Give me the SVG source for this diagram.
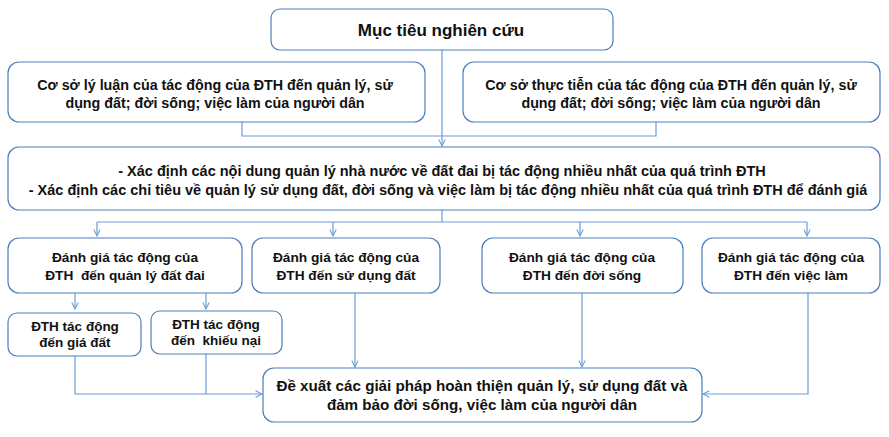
<svg xmlns="http://www.w3.org/2000/svg" width="889" height="437" viewBox="0 0 889 437">
<defs>
<style>
.box{fill:#fff;stroke:#4a7ebb;stroke-width:1.2}
.t{font-family:"Liberation Sans",Arial,sans-serif;font-weight:bold;font-size:13px;fill:#111;text-anchor:middle}
.s1{font-size:14.3px}
.s2{font-size:14.5px}
.s3{font-size:13.7px}
.s4{font-size:13.5px}
.s5{font-size:15.2px}
.c{fill:none;stroke:#6c9bd8;stroke-width:1.2}
</style>
<marker id="ar" viewBox="0 0 10 10" refX="9" refY="5" markerWidth="8" markerHeight="8" orient="auto" markerUnits="userSpaceOnUse">
<path d="M1,1 L9,5 L1,9" fill="none" stroke="#6c9bd8" stroke-width="1.3"/>
</marker>
</defs>
<rect width="889" height="437" fill="#fff"/>
<g id="connectors">
<path class="c" d="M442,50 V146" marker-end="url(#ar)"/>
<path class="c" d="M242,122 V136 H442"/>
<path class="c" d="M656,122 V136 H442"/>
<path class="c" d="M442,210 V222"/>
<path class="c" d="M97,222 H807"/>
<path class="c" d="M97,222 V236" marker-end="url(#ar)"/>
<path class="c" d="M333,222 V236" marker-end="url(#ar)"/>
<path class="c" d="M580,222 V236" marker-end="url(#ar)"/>
<path class="c" d="M807,222 V236" marker-end="url(#ar)"/>
<path class="c" d="M75,293 V309" marker-end="url(#ar)"/>
<path class="c" d="M206,293 V309" marker-end="url(#ar)"/>
<path class="c" d="M75,356 V394 H262" marker-end="url(#ar)"/>
<path class="c" d="M206,354 V394"/>
<path class="c" d="M355,293 V367" marker-end="url(#ar)"/>
<path class="c" d="M582,293 V367" marker-end="url(#ar)"/>
<path class="c" d="M808,293 V394 H703" marker-end="url(#ar)"/>
</g>
<g id="n_muctieu">
<rect class="box" x="271" y="9" width="342" height="41" rx="9"/>
<text class="t" x="441" y="36" style="font-size:17px">Mục tiêu nghiên cứu</text>
</g>
<g id="n_lyluan">
<rect class="box" x="8" y="62" width="417" height="60" rx="11"/>
<text class="t s1" x="215" y="90">Cơ sở lý luận của tác động của ĐTH đến quản lý, sử</text>
<text class="t s1" x="215" y="108">dụng đất; đời sống; việc làm của người dân</text>
</g>
<g id="n_thuctien">
<rect class="box" x="463" y="62" width="417" height="60" rx="11"/>
<text class="t s1" x="671" y="90">Cơ sở thực tiễn của tác động của ĐTH đến quản lý, sử</text>
<text class="t s1" x="671" y="108">dụng đất; đời sống; việc làm của người dân</text>
</g>
<g id="n_xacdinh">
<rect class="box" x="8" y="147" width="872" height="63" rx="11"/>
<text class="t s2" x="442" y="176">- Xác định các nội dung quản lý nhà nước về đất đai bị tác động nhiều nhất của quá trình ĐTH</text>
<text class="t s2" x="448" y="195">- Xác định các chỉ tiêu về quản lý sử dụng đất, đời sống và việc làm bị tác động nhiều nhất của quá trình ĐTH để đánh giá</text>
</g>
<g id="n_qlda">
<rect class="box" x="8" y="238" width="234" height="55" rx="11"/>
<text class="t s3" x="125" y="262">Đánh giá tác động của</text>
<text class="t s3" x="125" y="280" xml:space="preserve">ĐTH  đến quản lý đất đai</text>
</g>
<g id="n_sdd">
<rect class="box" x="252" y="238" width="188" height="55" rx="11"/>
<text class="t s3" x="346" y="262">Đánh giá tác động của</text>
<text class="t s3" x="346" y="280">ĐTH đến sử dụng đất</text>
</g>
<g id="n_doisong">
<rect class="box" x="482" y="238" width="201" height="55" rx="11"/>
<text class="t s3" x="582" y="262">Đánh giá tác động của</text>
<text class="t s3" x="582" y="280">ĐTH đến đời sống</text>
</g>
<g id="n_vieclam">
<rect class="box" x="702" y="238" width="178" height="55" rx="11"/>
<text class="t s3" x="791" y="262">Đánh giá tác động của</text>
<text class="t s3" x="791" y="280">ĐTH đến việc làm</text>
</g>
<g id="n_giadat">
<rect class="box" x="8" y="313" width="133" height="43" rx="9"/>
<text class="t s4" x="75" y="331">ĐTH tác động</text>
<text class="t s4" x="75" y="347">đến giá đất</text>
</g>
<g id="n_khieunai">
<rect class="box" x="151" y="311" width="131" height="43" rx="9"/>
<text class="t s4" x="216" y="329">ĐTH tác động</text>
<text class="t s4" x="216" y="345" xml:space="preserve">đến  khiếu nại</text>
</g>
<g id="n_dexuat">
<rect class="box" x="263" y="368" width="439" height="54" rx="11"/>
<text class="t s5" x="482" y="391">Đề xuất các giải pháp hoàn thiện quản lý, sử dụng đất và</text>
<text class="t s5" x="482" y="410">đảm bảo đời sống, việc làm của người dân</text>
</g>
</svg>
